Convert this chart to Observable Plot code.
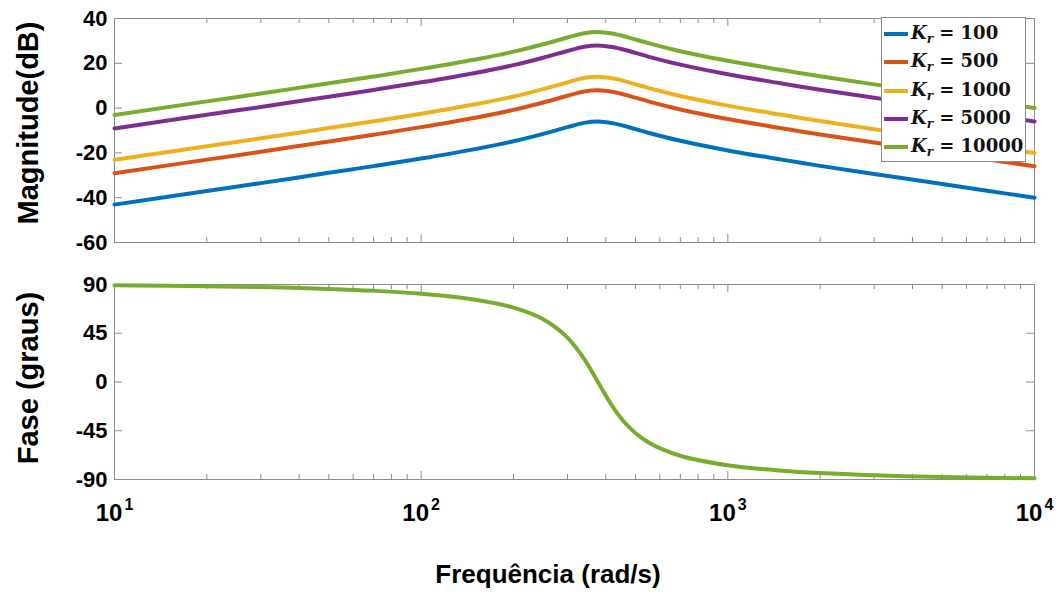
<!DOCTYPE html>
<html><head><meta charset="utf-8">
<script src="https://cdn.jsdelivr.net/npm/d3@7"></script>
<script src="https://cdn.jsdelivr.net/npm/@observablehq/plot@0.6"></script>
<style>
body{margin:0;background:#fff;}
#wrap{position:relative;width:1062px;height:594px;overflow:hidden;background:#fff;font-family:"Liberation Sans",Arial,sans-serif;}
.pl{position:absolute;left:0;}
.ylab{position:absolute;font-weight:bold;font-size:29px;white-space:nowrap;transform:translate(-50%,-50%) rotate(-90deg);color:#000;}
.xlab{position:absolute;font-weight:bold;font-size:26px;white-space:nowrap;transform:translate(-50%,0);color:#000;}
.legend{position:absolute;left:881px;top:17px;width:145px;height:145px;border:1px solid #8c8c8c;background:#fff;box-sizing:border-box;}
.item{position:absolute;left:0;height:28px;width:100%;}
.sw{position:absolute;left:2px;width:24px;height:4px;top:-2px;}
.lab{position:absolute;left:29px;top:-12px;font-family:"DejaVu Serif",serif;font-weight:bold;font-size:18px;white-space:nowrap;color:#111;}
.lab sub{font-size:12px;vertical-align:-4px;}
</style></head><body><div id="wrap"></div>
<script>
// frequencies (rad/s)
const freq = [10, 20, 30, 50, 70, 100, 150, 200, 250, 300, 340, 377, 420, 470, 550, 700, 1000, 1500, 2000, 3000, 5000, 7000, 10000];
// magnitude (dB) per K_r
const magK100   = [-43.1, -37.0, -33.5, -28.9, -25.9, -22.5, -18.3, -14.8, -11.5, -8.5, -6.6, -6.0, -6.7, -8.3, -11.0, -14.6, -18.9, -23.0, -25.8, -29.4, -33.9, -36.9, -40.0];
const magK500   = [-29.1, -23.0, -19.5, -14.9, -11.9, -8.5, -4.3, -0.8, 2.5, 5.5, 7.4, 8.0, 7.3, 5.7, 3.0, -0.6, -4.9, -9.0, -11.8, -15.4, -19.9, -22.9, -26.0];
const magK1000  = [-23.1, -17.0, -13.5, -8.9, -5.9, -2.5, 1.7, 5.2, 8.5, 11.5, 13.4, 14.0, 13.3, 11.7, 9.0, 5.4, 1.1, -3.0, -5.8, -9.4, -13.9, -16.9, -20.0];
const magK5000  = [-9.1, -3.0, 0.5, 5.1, 8.1, 11.5, 15.7, 19.2, 22.5, 25.5, 27.4, 28.0, 27.3, 25.7, 23.0, 19.4, 15.1, 11.0, 8.2, 4.6, 0.1, -2.9, -6.0];
const magK10000 = [-3.1, 3.0, 6.5, 11.1, 14.1, 17.5, 21.7, 25.2, 28.5, 31.5, 33.4, 34.0, 33.3, 31.7, 29.0, 25.4, 21.1, 17.0, 14.2, 10.6, 6.1, 3.1, 0.0];
// phase (degrees), identical for all K_r
const phaseDeg = [89.2, 88.4, 87.6, 85.9, 84.2, 81.4, 75.9, 68.6, 57.9, 41.0, 21.3, 0.0, -22.2, -40.0, -55.6, -68.1, -76.9, -81.9, -84.1, -86.1, -87.7, -88.4, -88.9];

const kLabels = ["100", "500", "1000", "5000", "10000"];
const seriesColors = ["#0072BD", "#D95319", "#EDB120", "#7E2F8E", "#77AC30"];
const xMajor = [10, 100, 1000, 10000];
const xTickLabels = ["10^1", "10^2", "10^3", "10^4"];
const xMinor = [20,30,40,50,60,70,80,90,200,300,400,500,600,700,800,900,2000,3000,4000,5000,6000,7000,8000,9000];
const magTicks = [40, 20, 0, -20, -40, -60];
const phaseTicks = [90, 45, 0, -45, -90];
const magLabel = "Magnitude(dB)";
const phaseLabel = "Fase (graus)";
const freqLabel = "Frequência (rad/s)";

const magSeries = [magK100, magK500, magK1000, magK5000, magK10000];
const magRows = [];
magSeries.forEach((arr, i) => arr.forEach((m, j) => magRows.push({f: freq[j], m, k: kLabels[i]})));
const phaseRows = freq.map((f, j) => ({f, p: phaseDeg[j]}));

const W = 1062, ML = 114, MR = 28;
const IW = W - ML - MR;
const gray = "#8c8c8c";
const style = {fontFamily: '"Liberation Sans", Arial, sans-serif', fontSize: "22px", fontWeight: "bold", color: "#000", background: "transparent", overflow: "visible"};
const plain = d => String(d);

function boxTicks(IH, yTicks) {
  return [
    Plot.tickX(xMajor, {x: d => d, insetBottom: IH - 8, stroke: gray}),
    Plot.tickX(xMajor, {x: d => d, insetTop: IH - 8, stroke: gray}),
    Plot.tickX(xMinor, {x: d => d, insetBottom: IH - 5, stroke: gray}),
    Plot.tickX(xMinor, {x: d => d, insetTop: IH - 5, stroke: gray}),
    Plot.tickY(yTicks, {y: d => d, insetRight: IW - 8, stroke: gray}),
    Plot.tickY(yTicks, {y: d => d, insetLeft: IW - 8, stroke: gray}),
    Plot.frame({stroke: gray, strokeWidth: 1})
  ];
}

const H1 = 260, MT1 = 18, MB1 = 18;
const topPlot = Plot.plot({
  width: W, height: H1, marginLeft: ML, marginRight: MR, marginTop: MT1, marginBottom: MB1,
  x: {type: "log", domain: [10, 10000], axis: null},
  y: {domain: [-60, 40]},
  color: {domain: kLabels, range: seriesColors},
  style,
  marks: [
    ...boxTicks(H1 - MT1 - MB1, magTicks),
    Plot.axisY(magTicks, {tickSize: 0, tickPadding: 7, label: null, fill: "#000", tickFormat: plain}),
    Plot.line(magRows, {x: "f", y: "m", z: "k", stroke: "k", strokeWidth: 4, curve: "catmull-rom"})
  ]
});

const H2 = 334, MT2 = 24, MB2 = 115;
const botPlot = Plot.plot({
  width: W, height: H2, marginLeft: ML, marginRight: MR, marginTop: MT2, marginBottom: MB2,
  x: {type: "log", domain: [10, 10000]},
  y: {domain: [-90, 90]},
  style,
  marks: [
    ...boxTicks(H2 - MT2 - MB2, phaseTicks),
    Plot.axisY(phaseTicks, {tickSize: 0, tickPadding: 7, label: null, fill: "#000", tickFormat: plain}),
    Plot.axisX(xMajor, {tickSize: 0, tickPadding: 24, label: null, fill: "#000", fontSize: 24, tickFormat: d => xTickLabels[xMajor.indexOf(d)]}),
    Plot.line(phaseRows, {x: "f", y: "p", stroke: seriesColors[4], strokeWidth: 4, curve: "catmull-rom"})
  ]
});

// render exponents as raised smaller text
d3.select(botPlot).selectAll("g[aria-label='x-axis tick label'] text").each(function() {
  const t = d3.select(this);
  const s = t.text();
  const parts = s.split("^");
  if (parts.length === 2) {
    t.text(parts[0]);
    t.append("tspan").attr("dy", "-11px").attr("dx", "2px").attr("font-size", "16px").text(parts[1]);
  }
});

const wrap = document.getElementById("wrap");
topPlot.classList.add("pl"); topPlot.style.top = "0px"; topPlot.style.position = "absolute";
botPlot.classList.add("pl"); botPlot.style.top = H1 + "px"; botPlot.style.position = "absolute";
wrap.appendChild(topPlot);
wrap.appendChild(botPlot);

function addDiv(cls, text, x, y) {
  const d = document.createElement("div");
  d.className = cls; d.textContent = text;
  d.style.left = x + "px"; d.style.top = y + "px";
  wrap.appendChild(d);
}
addDiv("ylab", magLabel, 28, 123);
addDiv("ylab", phaseLabel, 28, 378);
addDiv("xlab", freqLabel, 548, 559);

const leg = document.createElement("div");
leg.className = "legend";
kLabels.forEach((k, i) => {
  const it = document.createElement("div");
  it.className = "item";
  it.style.top = (16 + i * 28.3) + "px";
  const sw = document.createElement("span");
  sw.className = "sw"; sw.style.background = seriesColors[i];
  const lab = document.createElement("span");
  lab.className = "lab";
  lab.innerHTML = "<i>K</i><sub><i>r</i></sub> = " + k;
  it.appendChild(sw); it.appendChild(lab);
  leg.appendChild(it);
});
wrap.appendChild(leg);
</script></body></html>
